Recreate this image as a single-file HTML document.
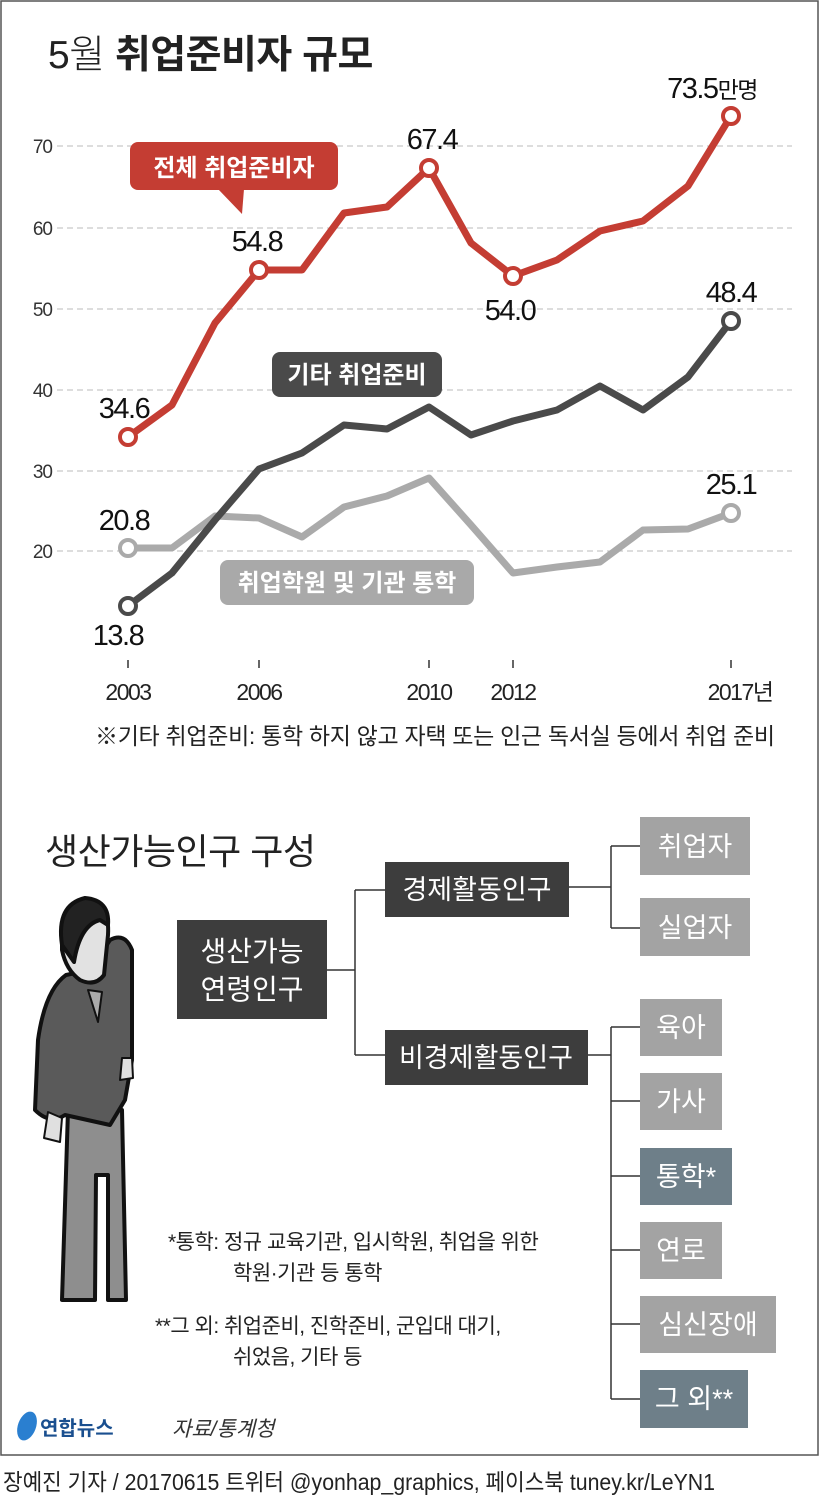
<!DOCTYPE html>
<html><head><meta charset="utf-8"><style>
html,body{margin:0;padding:0;background:#fff}
svg{display:block}
text{font-family:"Liberation Sans","Noto Sans CJK KR",sans-serif}
</style></head><body>
<svg width="820" height="1501" viewBox="0 0 820 1501" xmlns="http://www.w3.org/2000/svg">
<rect x="1" y="1" width="817" height="1454" fill="#fff" stroke="#555" stroke-width="1.5"/>
<text x="48" y="68" font-size="39" fill="#222" letter-spacing="-0.5"><tspan font-weight="300">5월 </tspan><tspan font-weight="bold">취업준비자 규모</tspan></text>
<g stroke="#bbb" stroke-width="1" stroke-dasharray="6,4">
<line x1="57" y1="146" x2="792" y2="146"/><line x1="57" y1="228" x2="792" y2="228"/>
<line x1="57" y1="309" x2="792" y2="309"/><line x1="57" y1="390" x2="792" y2="390"/>
<line x1="57" y1="471" x2="792" y2="471"/><line x1="57" y1="551" x2="792" y2="551"/>
</g>
<g font-size="19" fill="#333" text-anchor="end" letter-spacing="-1">
<text x="52" y="153">70</text><text x="52" y="235">60</text><text x="52" y="316">50</text>
<text x="52" y="397">40</text><text x="52" y="478">30</text><text x="52" y="558">20</text>
</g>
<g stroke="#333" stroke-width="1.5">
<line x1="128" y1="660" x2="128" y2="668"/><line x1="259" y1="660" x2="259" y2="668"/>
<line x1="429" y1="660" x2="429" y2="668"/><line x1="513" y1="660" x2="513" y2="668"/>
<line x1="731" y1="660" x2="731" y2="668"/>
</g>
<g font-size="23" fill="#222" text-anchor="middle" letter-spacing="-1.5">
<text x="128" y="700">2003</text><text x="259" y="700">2006</text><text x="429" y="700">2010</text>
<text x="513" y="700">2012</text><text x="740" y="700">2017년</text>
</g>
<text x="95" y="744" font-size="23" fill="#222" textLength="680" lengthAdjust="spacing">※기타 취업준비: 통학 하지 않고 자택 또는 인근 독서실 등에서 취업 준비</text>
<polyline fill="none" stroke="#aaa" stroke-width="7" stroke-linejoin="round" points="128,548 172,548 215,516 259,518 302,537 344,507 387,496 429,478 471,525 513,573 557,567 600,562 643,530 688,529 731,513"/>
<polyline fill="none" stroke="#4a4a4a" stroke-width="7" stroke-linejoin="round" points="128,606 172,573 215,520 259,469 302,453 344,425 387,429 429,407 471,435 513,421 557,410 600,386 643,410 688,377 731,321"/>
<polyline fill="none" stroke="#c43d33" stroke-width="7" stroke-linejoin="round" points="128,437 172,405 215,323 259,270 302,270 344,213 387,207 429,168 471,243 513,276 557,260 600,231 643,221 688,186 731,116"/>
<g stroke-width="4" fill="#fff">
<circle cx="128" cy="437" r="8" stroke="#c43d33"/><circle cx="259" cy="270" r="8" stroke="#c43d33"/>
<circle cx="429" cy="168" r="8" stroke="#c43d33"/><circle cx="513" cy="276" r="8" stroke="#c43d33"/>
<circle cx="731" cy="116" r="8" stroke="#c43d33"/>
<circle cx="128" cy="606" r="8" stroke="#4a4a4a"/><circle cx="731" cy="321" r="8" stroke="#4a4a4a"/>
<circle cx="128" cy="548" r="8" stroke="#aaa"/><circle cx="731" cy="513" r="8" stroke="#aaa"/>
</g>
<g font-size="29" fill="#111" text-anchor="middle" letter-spacing="-1.5">
<text x="124" y="418">34.6</text><text x="257" y="251">54.8</text><text x="432" y="149">67.4</text>
<text x="510" y="320">54.0</text><text x="712" y="98">73.5<tspan font-size="23">만명</tspan></text>
<text x="731" y="302">48.4</text><text x="124" y="530">20.8</text><text x="118" y="645">13.8</text>
<text x="731" y="494">25.1</text>
</g>
<rect x="130" y="142" width="208" height="48" rx="8" fill="#c43d33"/>
<polygon points="218,189 244,189 242,214" fill="#c43d33"/>
<text x="234" y="176" font-size="24" font-weight="bold" fill="#fff" text-anchor="middle">전체 취업준비자</text>
<rect x="272" y="352" width="170" height="45" rx="8" fill="#4a4a4a"/>
<text x="357" y="383" font-size="24" font-weight="bold" fill="#fff" text-anchor="middle">기타 취업준비</text>
<rect x="220" y="560" width="254" height="45" rx="8" fill="#a9a9a9"/>
<text x="347" y="591" font-size="24" font-weight="bold" fill="#fff" text-anchor="middle">취업학원 및 기관 통학</text>
<text x="45" y="864" font-size="36" fill="#222" letter-spacing="-0.5">생산가능인구 구성</text>
<g stroke="#333" stroke-width="1.5" fill="none">
<line x1="327" y1="970" x2="355" y2="970"/><line x1="355" y1="890" x2="355" y2="1055"/>
<line x1="355" y1="890" x2="385" y2="890"/><line x1="355" y1="1055" x2="385" y2="1055"/>
<line x1="569" y1="887" x2="611" y2="887"/><line x1="611" y1="846" x2="611" y2="928"/>
<line x1="611" y1="846" x2="640" y2="846"/><line x1="611" y1="928" x2="640" y2="928"/>
<line x1="588" y1="1055" x2="611" y2="1055"/><line x1="611" y1="1027" x2="611" y2="1399"/>
<line x1="611" y1="1027" x2="640" y2="1027"/><line x1="611" y1="1101" x2="640" y2="1101"/>
<line x1="611" y1="1176" x2="640" y2="1176"/><line x1="611" y1="1250" x2="640" y2="1250"/>
<line x1="611" y1="1324" x2="640" y2="1324"/><line x1="611" y1="1399" x2="640" y2="1399"/>
</g>
<rect x="177" y="920" width="150" height="99" fill="#3d3d3d"/>
<text x="252" y="961" font-size="28" fill="#fff" text-anchor="middle">생산가능</text>
<text x="252" y="999" font-size="28" fill="#fff" text-anchor="middle">연령인구</text>
<rect x="385" y="862" width="184" height="55" fill="#3d3d3d"/>
<text x="477" y="899" font-size="27" fill="#fff" text-anchor="middle">경제활동인구</text>
<rect x="385" y="1030" width="203" height="55" fill="#3d3d3d"/>
<text x="486" y="1067" font-size="27" fill="#fff" text-anchor="middle">비경제활동인구</text>
<g font-size="27" fill="#fff" text-anchor="middle">
<rect x="640" y="817" width="110" height="58" fill="#a3a3a3"/><text x="695" y="856">취업자</text>
<rect x="640" y="898" width="110" height="58" fill="#a3a3a3"/><text x="695" y="937">실업자</text>
<rect x="640" y="999" width="82" height="57" fill="#a3a3a3"/><text x="681" y="1037">육아</text>
<rect x="640" y="1073" width="82" height="57" fill="#a3a3a3"/><text x="681" y="1111">가사</text>
<rect x="640" y="1148" width="92" height="57" fill="#6e7f89"/><text x="686" y="1186">통학*</text>
<rect x="640" y="1222" width="82" height="57" fill="#a3a3a3"/><text x="681" y="1260">연로</text>
<rect x="640" y="1296" width="136" height="57" fill="#a3a3a3"/><text x="708" y="1334">심신장애</text>
<rect x="640" y="1370" width="108" height="58" fill="#6e7f89"/><text x="694" y="1408">그 외**</text>
</g>
<g stroke="#111" stroke-width="4" stroke-linejoin="round">
<path d="M68,1110 L62,1300 L95,1300 L96,1175 L108,1175 L108,1300 L126,1300 L122,1110 Z" fill="#8e8e8e"/>
<path d="M66,975 Q45,990 38,1040 L35,1110 Q50,1125 65,1115 L110,1125 L125,1100 L132,1060 L132,950 Q125,932 110,940 L90,970 Z" fill="#5a5a5a"/>
<path d="M62,935 Q66,905 88,903 Q110,904 108,935 L104,975 Q95,987 80,980 Q66,970 62,950 Z" fill="#e2e2e2"/>
<path d="M62,945 Q56,905 85,898 Q110,900 108,925 L100,920 Q80,925 74,962 Z" fill="#222"/>
<path d="M88,990 L98,1022 L102,992 Z" fill="#aaa" stroke-width="2"/>
<path d="M48,1112 L44,1138 L60,1142 L62,1118 Z" fill="#e0e0e0" stroke-width="2"/>
<path d="M122,1058 L120,1080 L133,1078 L132,1058 Z" fill="#e0e0e0" stroke-width="2"/>
</g>
<g font-size="21" fill="#222" letter-spacing="-0.5">
<text x="168" y="1249">*통학: 정규 교육기관, 입시학원, 취업을 위한</text>
<text x="233" y="1280">학원·기관 등 통학</text>
<text x="155" y="1333">**그 외: 취업준비, 진학준비, 군입대 대기,</text>
<text x="233" y="1364">쉬었음, 기타 등</text>
</g>
<ellipse cx="27" cy="1426" rx="9" ry="15" fill="#2a7fd0" transform="rotate(20 27 1426)"/>
<text x="40" y="1435" font-size="20" font-weight="bold" fill="#1a4f8f">연합뉴스</text>
<text x="172" y="1436" font-size="21" fill="#333" font-style="italic">자료/통계청</text>
<text x="3" y="1490" font-size="23" fill="#222" textLength="712" lengthAdjust="spacingAndGlyphs">장예진 기자 / 20170615 트위터 @yonhap_graphics, 페이스북 tuney.kr/LeYN1</text>
</svg>
</body></html>
